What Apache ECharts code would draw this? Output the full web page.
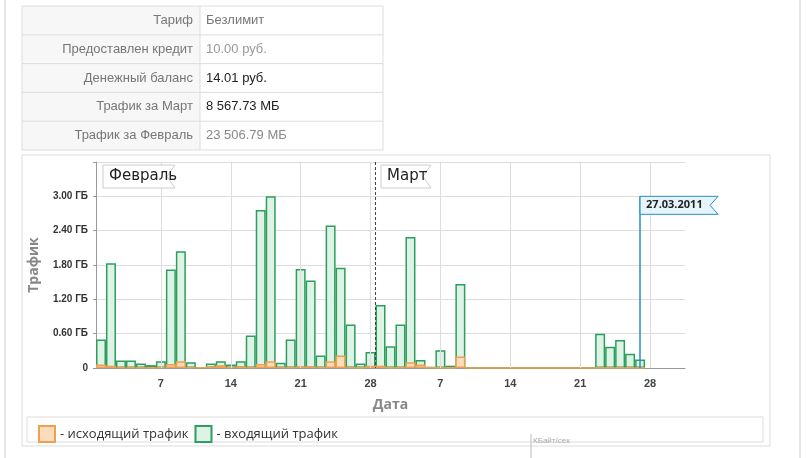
<!DOCTYPE html>
<html><head><meta charset="utf-8">
<script src="https://cdn.jsdelivr.net/npm/echarts@6/dist/echarts.min.js"></script>
<style>html,body{margin:0;padding:0;background:#fff}#c{width:806px;height:458px}</style>
</head><body><div id="c"></div>
<script>
const febDays = Array.from({length:28},(_,i)=>'02-'+(i+1));
const marDays = Array.from({length:31},(_,i)=>'03-'+(i+1));
const categories = febDays.concat(marDays);
const incoming = [0.50,1.83,0.13,0.13,0.08,0.05,0.12,1.72,2.04,0.10,0.01,0.08,0.12,0.06,0.12,0.57,2.76,3.00,0.09,0.50,1.73,1.53,0.22,2.49,1.75,0.76,0.08,0.28,
 1.10,0.38,0.76,2.29,0.14,0.02,0.31,0.04,1.47,0,0,0,0,0,0,0,0,0,0,0,0,0,0.60,0.37,0.49,0.25,0.15,null,null,null,null];
const outgoing = [0.06,0.04,0.02,0.02,0.01,0.01,0.02,0.07,0.12,0.02,0.01,0.03,0.05,0.02,0.03,0.02,0.07,0.12,0.02,0.02,0.03,0.03,0.02,0.12,0.22,0.02,0.01,0.04,
 0.04,0.01,0.02,0.10,0.06,0.01,0.01,0.01,0.20,0,0,0,0,0,0,0,0,0,0,0,0,0,0.01,0.01,0.01,0.01,0.01,null,null,null,null];
const yTicks = ['0','0.60 ГБ','1.20 ГБ','1.80 ГБ','2.40 ГБ','3.00 ГБ'];
const tableRows = [['Тариф','Безлимит','#777'],['Предоставлен кредит','10.00 руб.','#999'],['Денежный баланс','14.01 руб.','#222'],['Трафик за Март','8 567.73 МБ','#222'],['Трафик за Февраль','23 506.79 МБ','#888']];
const markerDate = '03-27', markerLabel = '27.03.2011';

const weekly = i => (i+1)%7===0 && i<56;
const chart = echarts.init(document.getElementById('c'));
const g = [];
g.push({type:'rect',shape:{x:22,y:6,width:178,height:144},style:{fill:'#f7f7f7'},z:0});
g.push({type:'rect',shape:{x:22,y:6,width:361,height:144},style:{fill:'none',stroke:'#ddd'},z:1});
g.push({type:'line',shape:{x1:200,y1:6,x2:200,y2:150},style:{stroke:'#ddd'},z:1});
tableRows.forEach((r,i)=>{
  const y=6+i*28.8;
  if(i>0) g.push({type:'line',shape:{x1:22,y1:y,x2:383,y2:y},style:{stroke:'#ddd'},z:1});
  g.push({type:'text',x:193,y:y+14.4,style:{text:r[0],align:'right',verticalAlign:'middle',fill:'#777',font:'13px "Liberation Sans"'},z:2});
  g.push({type:'text',x:206,y:y+14.4,style:{text:r[1],align:'left',verticalAlign:'middle',fill:r[2],font:'13px "Liberation Sans"'},z:2});
});
g.push({type:'rect',shape:{x:22,y:155,width:748,height:291},style:{fill:'none',stroke:'#ddd'},z:0});
g.push({type:'rect',shape:{x:27,y:417,width:736,height:25},style:{fill:'none',stroke:'#ddd'},z:0});
g.push({type:'line',shape:{x1:5,y1:0,x2:5,y2:458},style:{stroke:'#ccc'}});
g.push({type:'line',shape:{x1:800,y1:0,x2:800,y2:458},style:{stroke:'#ccc'}});
g.push({type:'text',x:533,y:437,style:{text:'КБайт/сек',fill:'#aaa',font:'8px Arial'}});
g.push({type:'line',shape:{x1:531,y1:434,x2:531,y2:458},style:{stroke:'#bbb'}});

const gridMarks = categories.filter((c,i)=>weekly(i)).map(c=>({xAxis:c}));
chart.setOption({
  animation:false,
  grid:{left:96,right:121,top:162,bottom:90},
  legend:{left:33,top:420,itemWidth:16,itemHeight:16,itemGap:6,icon:'rect',
    data:['- исходящий трафик','- входящий трафик'],
    textStyle:{fontFamily:'Open Sans',fontSize:13,color:'#333'}},
  xAxis:{type:'category',data:categories,name:'Дата',nameLocation:'middle',nameGap:30,
    nameTextStyle:{fontFamily:'Open Sans',fontSize:14,fontWeight:'bold',color:'#888'},
    axisLine:{lineStyle:{color:'#999'}},
    axisTick:{show:false},
    axisLabel:{interval:(i)=>weekly(i),formatter:v=>v.split('-')[1],color:'#444',fontSize:11,fontWeight:'bold',margin:10},
    splitLine:{show:false}},
  yAxis:{type:'value',min:0,max:3.6,interval:0.6,name:'Трафик',nameLocation:'middle',nameGap:55,
    nameTextStyle:{fontFamily:'Open Sans',fontSize:14,fontWeight:'bold',color:'#888'},
    axisLine:{show:true,lineStyle:{color:'#999'}},axisTick:{show:true,length:3,lineStyle:{color:'#999'}},
    axisLabel:{formatter:(v,i)=>yTicks[i]||'',color:'#333',fontSize:10,fontWeight:'bold'},
    splitLine:{lineStyle:{color:'#ddd'}}},
  series:[
    {name:'grid',type:'line',data:[],markLine:{symbol:'none',silent:true,label:{show:false},
      lineStyle:{color:'#ddd',type:'solid',width:1},data:gridMarks},z:0},
    {name:'- входящий трафик',type:'bar',data:incoming,barWidth:'100%',barGap:'-100%',z:2,
     itemStyle:{color:'#dcf3e6',borderColor:'#2e9e5e',borderWidth:1.5},
     markLine:{symbol:'none',silent:true,label:{show:false},lineStyle:{color:'#2a8fc4',type:'solid',width:1.5},
       data:[[{coord:[markerDate,0]},{coord:[markerDate,3.0]}]]}},
    {name:'- исходящий трафик',type:'bar',data:outgoing,barWidth:'100%',barGap:'-100%',z:3,
     itemStyle:{color:'#fbdcbb',borderColor:'#f0a050',borderWidth:1.5}}
  ],
  graphic:g
});
const xb = chart.convertToPixel({xAxisIndex:0},28) - 5;
const xm = chart.convertToPixel({xAxisIndex:0},54);
const yTop = chart.convertToPixel({yAxisIndex:0},3.0);
const y0 = chart.convertToPixel({yAxisIndex:0},0);
function flag(x,y,w,h,txt,fill,stroke,font){
  return [{type:'polygon',shape:{points:[[x,y],[x+w+8,y],[x+w,y+h/2],[x+w+8,y+h],[x,y+h]]},style:{fill:fill,stroke:stroke},z:10},
    {type:'text',x:x+6,y:y+h/2,style:{text:txt,verticalAlign:'middle',fill:'#222',font:font},z:11}];
}
const g2 = g.concat([{type:'line',shape:{x1:xb,y1:162,x2:xb,y2:y0},style:{stroke:'#444',lineWidth:1,lineDash:[3,2]},z:50}],
  flag(103,165,64,23,'Февраль','#fff','#ccc','15px "DejaVu Sans"'),
  flag(381,165,42,23,'Март','#fff','#ccc','15px "DejaVu Sans"'),
  flag(xm,yTop,70,18,markerLabel,'#e6f4fb','#2a8fc4','bold 11px "Open Sans"'));
chart.setOption({graphic:g2},{replaceMerge:['graphic']});
</script></body></html>
